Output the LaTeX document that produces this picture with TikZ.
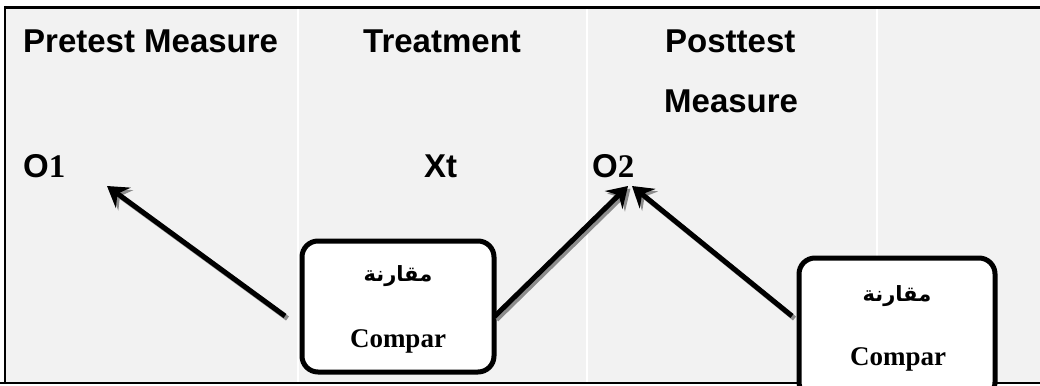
\documentclass[tikz,border=0pt]{standalone}
\usepackage{fontspec}
\setmainfont{Liberation Serif}
\newfontfamily\hsans{Liberation Sans}
\newfontfamily\arabicfont[Script=Arabic,BoldFont={DejaVu Sans Bold}]{DejaVu Sans}
\TeXXeTstate=1
\usetikzlibrary{arrows.meta}
\definecolor{bggray}{HTML}{F2F2F2}
\definecolor{shadowgray}{HTML}{8C8C8C}
\begin{document}
\begin{tikzpicture}[x=1pt,y=-1pt,
  head/.style={anchor=base west,inner sep=0pt,font=\hsans\bfseries\fontsize{33}{40}\selectfont},
  cbox/.style={draw=black,line width=5pt,rounded corners=16pt,fill=white},
  artext/.style={inner sep=0pt,font=\arabicfont\bfseries\fontsize{21}{24}\selectfont},
  entext/.style={inner sep=0pt,font=\bfseries\fontsize{27}{32}\selectfont},
  arr/.style={line width=5pt,-{Stealth[length=20pt,width=25pt,inset=7pt]}},
  arrshadow/.style={arr,draw=shadowgray,transform canvas={shift={(2.5pt,-2.5pt)}}}]
\useasboundingbox (0,0) rectangle (1040,385);
% background table
\fill[bggray] (5,8) rectangle (1040,383);
\draw[white,line width=1.5pt] (298,9) -- (298,382);
\draw[white,line width=1.5pt] (587,9) -- (587,382);
\draw[white,line width=1.5pt] (877,9) -- (877,382);
\draw[black,line width=3pt] (5,7.5) -- (1040,7.5);
\draw[black,line width=2.5pt] (5,6) -- (5,384);
\draw[black,line width=2.5pt] (0,383) -- (1040,383);
% headings
\node[head] (pre) at (23,53) {Pretest Measure};
\node[head] (trt) at (363,53) {Treatment};
\node[head] (post1) at (665,53) {Posttest};
\node[head] (post2) at (664,113) {Measure};
\node[head] (o1) at (23,177) {O\textrm{1}};
\node[head] (xt) at (424,177) {Xt};
\node[head] (o2) at (592,177) {O\textrm{2}};
% boxes
\node[cbox,minimum width=192pt,minimum height=131pt] (b1) at (398,306.5) {};
\node[cbox,minimum width=196pt,minimum height=140pt] (b2) at (897,328) {};
\node[artext] (b1ar) at (398,276) {\beginR مقارنة\endR};
\node[entext] (b1en) at (398,341) {Compar};
\node[artext] (b2ar) at (897,296) {\beginR مقارنة\endR};
\node[entext] (b2en) at (898,359) {Compar};
% arrow end points
\coordinate (s1) at (285,316);
\coordinate (t1) at (107,186);
\coordinate (s2) at (494,317);
\coordinate (t2) at (628,186);
\coordinate (s3) at (792,316);
\coordinate (t3) at (632,186);
% shadows
\draw[arrshadow] (s1) -- (t1);
\draw[arrshadow] (s2) -- (t2);
\draw[arrshadow] (s3) -- (t3);
% arrows
\draw[arr] (s1) -- (t1);
\draw[arr] (s2) -- (t2);
\draw[arr] (s3) -- (t3);
\end{tikzpicture}
\end{document}
